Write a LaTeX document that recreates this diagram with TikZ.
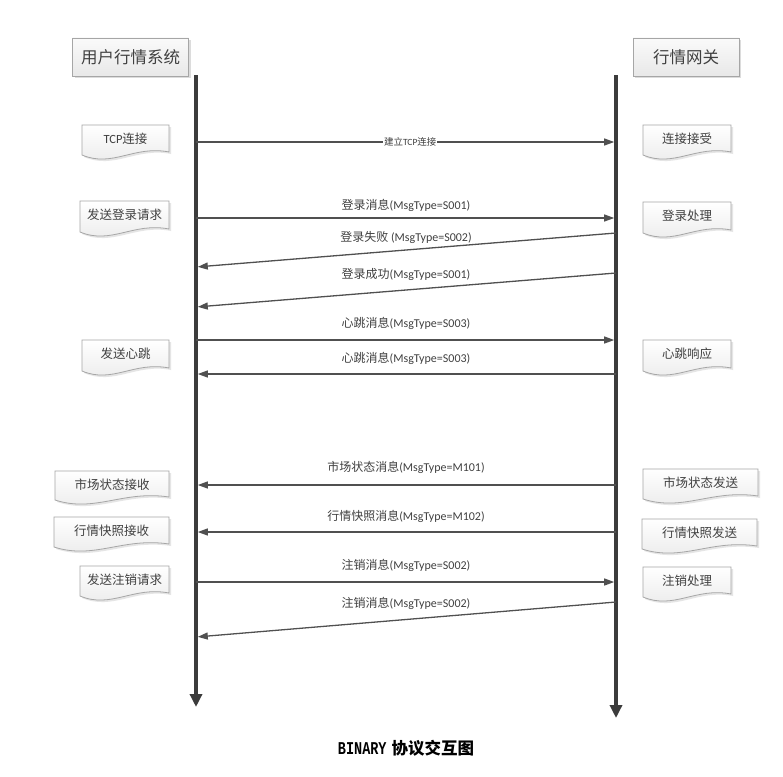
\documentclass[tikz,border=0pt]{standalone}
\usepackage{fontspec}
\setmainfont{Carlito}
\newfontfamily\cjk{Noto Sans CJK SC}
\newfontfamily\capmono{Liberation Mono}
\usetikzlibrary{arrows.meta,shadows}
\definecolor{txt}{HTML}{404040}
\definecolor{life}{HTML}{3C3C3C}
\definecolor{msg}{HTML}{505050}
\definecolor{bord}{HTML}{A6A6A6}
\newcommand\zh[1]{{\cjk #1}}
\tikzset{
  lifeline/.style={life, line width=3.5pt, -{Triangle[length=13pt,width=12pt]}},
  msgline/.style={msg, line width=1.3pt, -{Triangle[length=10pt,width=7pt]}, shorten >=1.8pt},
  msglabel/.style={text=txt, font=\fontsize{12}{14}\selectfont, inner sep=1pt},
  header/.style={draw=bord, line width=0.8pt, top color=gray!4, bottom color=gray!18,
    text=txt, font=\cjk\fontsize{16.5}{18}\selectfont,
    drop shadow={shadow xshift=2pt, shadow yshift=-2pt, fill=gray!45, opacity=0.6}},
  docshape/.style={draw=bord, line width=0.8pt, top color=white, bottom color=gray!17},
  docshadow/.style={fill=gray!40, opacity=0.5},
  doctext/.style={text=txt, font=\fontsize{12.5}{14}\selectfont, inner sep=1pt},
}
% name, x1, top, x2, bottom, text
\newcommand\docnode[6]{%
  \fill[docshadow] ({#2+2},{#3+2}) -- ({#4+2},{#3+2}) -- ({#4+2},{#5-5})
    .. controls ({#2+2+0.6*(#4-#2)},{#5-12}) and ({#2+2+0.35*(#4-#2)},{#5+11}) .. ({#2+2},{#5-2}) -- cycle;
  \path[docshape] (#2,#3) -- (#4,#3) -- (#4,{#5-7})
    .. controls ({#2+0.6*(#4-#2)},{#5-14}) and ({#2+0.35*(#4-#2)},{#5+9}) .. (#2,{#5-4}) -- cycle;
  \node[doctext] (#1) at ({(#2+#4)/2},{#3+14}) {#6};
}
\begin{document}
\begin{tikzpicture}[x=1pt,y=-1pt]
\useasboundingbox[fill=white] (0,0) rectangle (783,776);

% headers
\node[header, minimum width=116pt, minimum height=38pt] (hL) at (130.5,57) {用户行情系统};
\node[header, minimum width=106pt, minimum height=38pt] (hR) at (686,57) {行情网关};

% lifelines
\coordinate (Ltop) at (196,75);
\coordinate (Lbot) at (196,707);
\coordinate (Rtop) at (616,75);
\coordinate (Rbot) at (616,718);
\draw[lifeline] (Ltop) -- (Lbot);
\draw[lifeline] (Rtop) -- (Rbot);

% left documents
\docnode{dL1}{82}{125}{169}{159}{TCP\zh{连接}}
\docnode{dL2}{80}{201}{169}{236}{\zh{发送登录请求}}
\docnode{dL3}{82}{340}{169}{375}{\zh{发送心跳}}
\docnode{dL4}{55}{471}{169}{504}{\zh{市场状态接收}}
\docnode{dL5}{54}{517}{169}{551}{\zh{行情快照接收}}
\docnode{dL6}{80}{566}{169}{600}{\zh{发送注销请求}}

% right documents
\docnode{dR1}{643}{125}{731}{159}{\zh{连接接受}}
\docnode{dR2}{643}{202}{731}{237}{\zh{登录处理}}
\docnode{dR3}{643}{340}{731}{375}{\zh{心跳响应}}
\docnode{dR4}{643}{469}{758}{503}{\zh{市场状态发送}}
\docnode{dR5}{642}{519}{757}{553}{\zh{行情快照发送}}
\docnode{dR6}{643}{567}{731}{601}{\zh{注销处理}}

% message end points
\coordinate (a1) at (196,142); \coordinate (b1) at (616,142);
\coordinate (a2) at (196,218); \coordinate (b2) at (616,218);
\coordinate (a3) at (196,267); \coordinate (b3) at (616,233);
\coordinate (a4) at (196,307); \coordinate (b4) at (616,273);
\coordinate (a5) at (196,340); \coordinate (b5) at (616,340);
\coordinate (a6) at (196,374); \coordinate (b6) at (616,374);
\coordinate (a7) at (196,485); \coordinate (b7) at (616,485);
\coordinate (a8) at (196,532); \coordinate (b8) at (616,532);
\coordinate (a9) at (196,582); \coordinate (b9) at (616,582);
\coordinate (a10) at (196,637); \coordinate (b10) at (616,602);

\draw[msgline] (a1) -- (b1) node[pos=0.51, fill=white, text=txt, inner sep=1pt,
  font=\fontsize{9.5}{11}\selectfont] (m1) {\zh{建立}TCP\zh{连接}};
\draw[msgline] (a2) -- (b2);
\draw[msgline] (b3) -- (a3);
\draw[msgline] (b4) -- (a4);
\draw[msgline] (a5) -- (b5);
\draw[msgline] (b6) -- (a6);
\draw[msgline] (b7) -- (a7);
\draw[msgline] (b8) -- (a8);
\draw[msgline] (a9) -- (b9);
\draw[msgline] (b10) -- (a10);

% message labels
\node[msglabel] (m2) at (406,205) {\zh{登录消息}(MsgType=S001)};
\node[msglabel] (m3) at (406,237) {\zh{登录失败} (MsgType=S002)};
\node[msglabel] (m4) at (406,274) {\zh{登录成功}(MsgType=S001)};
\node[msglabel] (m5) at (406,323) {\zh{心跳消息}(MsgType=S003)};
\node[msglabel] (m6) at (406,358) {\zh{心跳消息}(MsgType=S003)};
\node[msglabel] (m7) at (406,467) {\zh{市场状态消息}(MsgType=M101)};
\node[msglabel] (m8) at (406,516) {\zh{行情快照消息}(MsgType=M102)};
\node[msglabel] (m9) at (406,565) {\zh{注销消息}(MsgType=S002)};
\node[msglabel] (m10) at (406,603) {\zh{注销消息}(MsgType=S002)};

% caption
\node[text=black, inner sep=0pt] (cap) at (406,748)
  {\scalebox{0.75}[1]{\capmono\bfseries\fontsize{18}{20}\selectfont BINARY}\hspace{5pt}{\cjk\bfseries\fontsize{16.5}{18}\selectfont 协议交互图}};
\end{tikzpicture}
\end{document}
